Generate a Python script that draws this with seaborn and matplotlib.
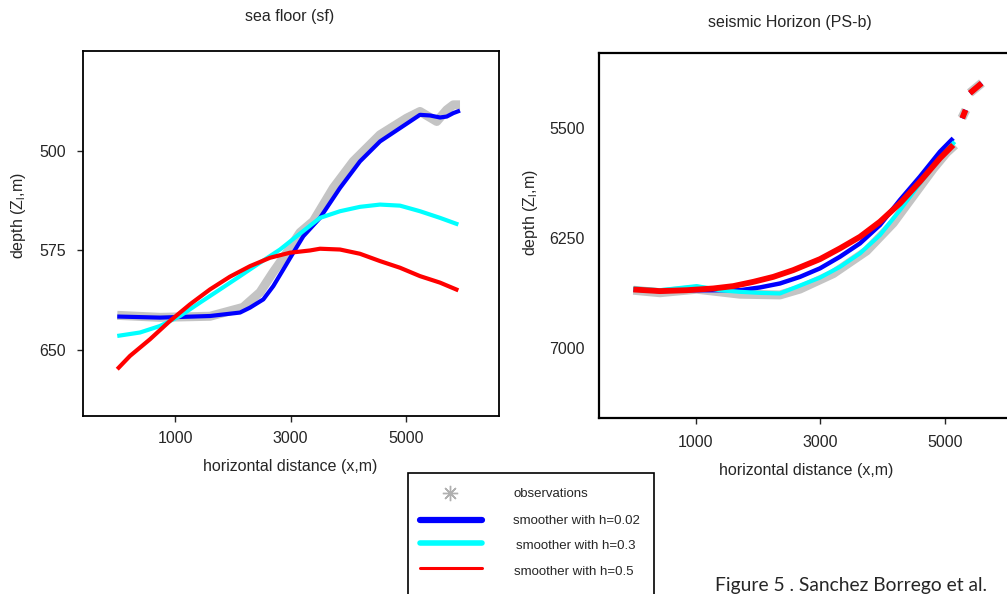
import pandas as pd
import matplotlib.pyplot as plt
import seaborn as sns
from matplotlib.lines import Line2D
from matplotlib.patches import Rectangle

# ------------------------------------------
# Data
# ------------------------------------------
# sea floor (sf)
sf_obs_x = [0, 740, 1606, 2178, 2472, 2697, 2939, 3165, 3395, 3741, 4087, 4550,
            5012, 5242, 5532, 5705, 5819, 5935]
sf_obs_z = [623.8, 625.3, 624.5, 617.8, 606.5, 591.5, 576.5, 561.5, 553, 528, 508, 488,
            475.5, 470.5, 478, 469.3, 465.5, 465.5]

sf_h002_x = [0, 740, 1606, 2126, 2299, 2529, 2702, 2875, 3048, 3222, 3511, 3857, 4203,
             4550, 4896, 5242, 5416, 5589, 5705, 5819, 5935]
sf_h002_z = [624.7, 625.5, 624.3, 621.7, 618, 611.8, 601.8, 589.3, 576.7, 564.3, 550.5, 528, 508,
             493, 483, 473, 473.5, 475, 474.3, 471.7, 469.8]

sf_h03_x = [0, 394, 740, 1087, 1433, 1779, 2126, 2472, 2818, 3165, 3511, 3857, 4203,
            4550, 4896, 5242, 5589, 5906]
sf_h03_z = [639.3, 636.7, 631.8, 624.3, 614.2, 604.3, 594.3, 584.2, 574.3, 562.3, 550.5, 545.5, 542.2,
            540.5, 541.3, 545.5, 550.5, 555.5]

sf_h05_x = [0, 221, 567, 913, 1260, 1606, 1952, 2299, 2645, 2991, 3338, 3511, 3857,
            4203, 4550, 4896, 5242, 5589, 5906]
sf_h05_z = [664.3, 654.3, 641.8, 628, 615.5, 604.3, 594.7, 586.8, 580.5, 576.7, 575, 573.7, 574.3,
            577.5, 583, 588, 594.3, 599.2, 605]

# seismic Horizon (PS-b), seg = piece of the horizon
ps_obs_x = [0, 427, 1016, 1710, 2352, 2673, 3207, 3742, 4169, 4490, 4811, 5025, 5159,
            5271, 5335, 5399, 5592]
ps_obs_z = [6608, 6625, 6601, 6635, 6640, 6600, 6495, 6340, 6150, 5965, 5780, 5670, 5618,
            5434, 5379, 5263, 5195]
ps_obs_seg = [0] * 13 + [1, 1, 2, 2]

ps_h002_x = [0, 427, 856, 1390, 1710, 2031, 2352, 2673, 2994, 3314, 3635, 3956, 4277,
             4597, 4918, 5131, 5276, 5330, 5399, 5587]
ps_h002_z = [6603, 6614, 6608, 6608, 6608, 6589, 6562, 6517, 6459, 6380, 6289, 6164, 5993,
             5834, 5664, 5572, 5436, 5379, 5265, 5197]
ps_h002_seg = [0] * 16 + [1, 1, 2, 2]

ps_h03_x = [0, 427, 1016, 1390, 1710, 2031, 2352, 2620, 2994, 3314, 3635, 3956, 4277,
            4597, 4918, 5155, 5290, 5320]
ps_h03_z = [6596, 6608, 6580, 6608, 6619, 6626, 6630, 6585, 6522, 6449, 6357, 6232, 6062,
            5879, 5709, 5596, 5425, 5395]
ps_h03_seg = [0] * 16 + [1, 1]

ps_h05_x = [0, 427, 856, 1282, 1603, 1924, 2245, 2565, 2994, 3314, 3635, 3956, 4277,
            4597, 4918, 5131, 5276, 5330, 5399, 5587]
ps_h05_z = [6603, 6614, 6608, 6596, 6580, 6551, 6517, 6471, 6396, 6323, 6244, 6141, 6016,
            5868, 5709, 5618, 5436, 5379, 5265, 5197]
ps_h05_seg = [0] * 16 + [1, 1, 2, 2]

legend_labels = ["observations", "smoother with h=0.02", "smoother with h=0.3", "smoother with h=0.5"]

GRAY = "#c4c4c4"
BLUE = "#0000ff"
CYAN = "#00ffff"
RED = "#ff0000"

# ------------------------------------------
# Style
# ------------------------------------------
sns.set_style("white")
plt.rcParams["font.family"] = ["Liberation Sans", "DejaVu Sans"]
plt.rcParams["axes.edgecolor"] = "black"

W, H = 1007, 594
fig = plt.figure(figsize=(W / 100, H / 100), dpi=100)


def fx(px):
    return px / W


def fy(py):
    return 1 - py / H


def draw(ax, x, z, seg, color, lw, **kw):
    df = pd.DataFrame({"x": x, "z": z, "seg": seg})
    sns.lineplot(data=df, x="x", y="z", units="seg", estimator=None, sort=False,
                 color=color, linewidth=lw, ax=ax, legend=False,
                 solid_capstyle="butt", solid_joinstyle="round", **kw)


# ------------------------------------------
# Left panel: sea floor
# ------------------------------------------
ax1 = fig.add_axes([fx(83), fy(416), fx(499) - fx(83), fy(51) - fy(416)])
draw(ax1, sf_obs_x, sf_obs_z, [0] * len(sf_obs_x), GRAY, 6.5)
draw(ax1, sf_h002_x, sf_h002_z, [0] * len(sf_h002_x), BLUE, 3.0)
draw(ax1, sf_h03_x, sf_h03_z, [0] * len(sf_h03_x), CYAN, 3.0)
draw(ax1, sf_h05_x, sf_h05_z, [0] * len(sf_h05_x), RED, 3.0)
ax1.set_xlim(-593, 6610)
ax1.set_ylim(699.5, 425)
ax1.set_xticks([1000, 3000, 5000])
ax1.set_yticks([500, 575, 650])
ax1.tick_params(axis="both", direction="out", length=4, width=1, labelsize=11.5,
                left=True, bottom=True)
ax1.tick_params(axis="y", pad=8)
ax1.tick_params(axis="x", pad=7)
for s in ax1.spines.values():
    s.set_linewidth(1.3)
    s.set_color("black")
ax1.set_xlabel("")
ax1.set_ylabel("")

# ------------------------------------------
# Right panel: seismic horizon (runs off the right edge)
# ------------------------------------------
ax2 = fig.add_axes([fx(599), fy(418), fx(1045) - fx(599), fy(53) - fy(418)])
draw(ax2, ps_obs_x, ps_obs_z, ps_obs_seg, GRAY, 6.5)
draw(ax2, ps_h002_x, ps_h002_z, ps_h002_seg, BLUE, 3.2)
draw(ax2, ps_h03_x, ps_h03_z, ps_h03_seg, CYAN, 3.0)
draw(ax2, ps_h05_x, ps_h05_z, ps_h05_seg, RED, 4.2)
ax2.set_xlim(-551, 6604)
ax2.set_ylim(7479, 4991)
ax2.set_xticks([1000, 3000, 5000])
ax2.set_yticks([5500, 6250, 7000])
ax2.tick_params(axis="x", direction="out", length=4, width=1, labelsize=11.5, bottom=True, pad=8)
ax2.tick_params(axis="y", length=0, labelsize=11.5, pad=10)
for s in ax2.spines.values():
    s.set_linewidth(1.6)
    s.set_color("black")
ax2.set_xlabel("")
ax2.set_ylabel("")

# ------------------------------------------
# Titles and axis labels
# ------------------------------------------
fig.text(fx(290), fy(16), "sea floor (sf)", ha="center", va="center", fontsize=11.5)
fig.text(fx(790), fy(22), "seismic Horizon (PS-b)", ha="center", va="center", fontsize=11.5)
fig.text(fx(290), fy(467), "horizontal distance (x,m)", ha="center", va="center", fontsize=11.5)
fig.text(fx(806), fy(470), "horizontal distance (x,m)", ha="center", va="center", fontsize=11.5)
ylab = r"depth (Z$_\mathregular{l}$,m)"
fig.text(fx(18), fy(216), ylab, ha="center", va="center", rotation=90, fontsize=11.5)
fig.text(fx(530), fy(213), ylab, ha="center", va="center", rotation=90, fontsize=11.5)

# ------------------------------------------
# Legend box (bottom edge runs off the figure)
# ------------------------------------------
fig.add_artist(Rectangle((fx(408), fy(610)), fx(654) - fx(408), fy(473) - fy(610),
                         transform=fig.transFigure, fill=False, edgecolor="black", linewidth=1.2))
fig.add_artist(Line2D([fx(450)], [fy(493)], transform=fig.transFigure, marker=(8, 2, 0),
                      markersize=11, markeredgewidth=1.0, color="#b0b0b0", linestyle="none"))
legend_styles = [(BLUE, 4.5, 520), (CYAN, 4.0, 543), (RED, 2.2, 568)]
for color, lw, py in legend_styles:
    fig.add_artist(Line2D([fx(420), fx(482)], [fy(py), fy(py)], transform=fig.transFigure,
                          color=color, linewidth=lw, solid_capstyle="round"))
legend_text_pos = [(514, 494), (513, 521), (516, 546), (514, 572)]
for label, (px, py) in zip(legend_labels, legend_text_pos):
    fig.text(fx(px), fy(py), label, ha="left", va="center", fontsize=9.5)

fig.text(fx(715), fy(586), "Figure 5 . Sanchez Borrego et al.", ha="left", va="center",
         fontsize=13.9, family=["Lato", "DejaVu Sans"])

plt.savefig("out.png", dpi=100)
